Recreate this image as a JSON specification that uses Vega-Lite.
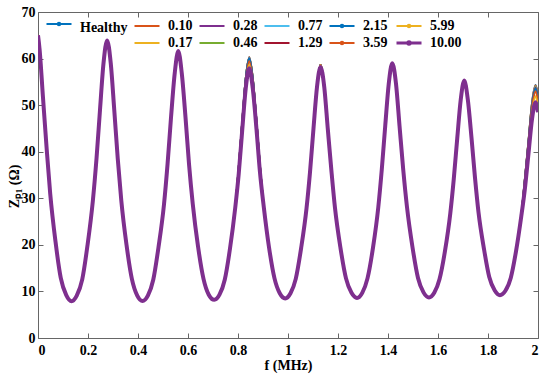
{
  "$schema": "https://vega.github.io/schema/vega-lite/v6.json",
  "width": 500,
  "height": 326,
  "autosize": {"type": "none"},
  "padding": {"left": 38, "top": 12, "right": 12, "bottom": 42},
  "background": "white",
  "config": {
    "view": {"stroke": null},
    "font": "Liberation Serif",
    "axis": {
      "labelFont": "Liberation Serif", "labelFontWeight": "bold", "labelFontSize": 14, "labelColor": "#000",
      "titleFont": "Liberation Serif", "titleFontWeight": "bold", "titleFontSize": 14, "titleColor": "#000",
      "domainColor": "#666", "tickColor": "#666", "tickSize": -5, "grid": false
    }
  },
  "layer": [
    {
      "data": {"values": [
        {"f":0,"A":65,"B":65,"C":65,"D":65,"E":65,"F":65,"G":65,"H":65,"I":65,"J":65,"K":65},
        {"f":0.006,"A":62.2,"B":62.2,"C":62.2,"D":62.2,"E":62.2,"F":62.2,"G":62.2,"H":62.2,"I":62.2,"J":62.2,"K":62.2},
        {"f":0.020,"A":51.6,"B":51.6,"C":51.6,"D":51.6,"E":51.6,"F":51.6,"G":51.6,"H":51.6,"I":51.6,"J":51.6,"K":51.6},
        {"f":0.035,"A":40.4,"B":40.4,"C":40.4,"D":40.4,"E":40.4,"F":40.4,"G":40.4,"H":40.4,"I":40.4,"J":40.4,"K":40.4},
        {"f":0.049,"A":30.9,"B":30.9,"C":30.9,"D":30.9,"E":30.9,"F":30.9,"G":30.9,"H":30.9,"I":30.9,"J":30.9,"K":30.9},
        {"f":0.070,"A":20.7,"B":20.7,"C":20.7,"D":20.7,"E":20.7,"F":20.7,"G":20.7,"H":20.7,"I":20.7,"J":20.7,"K":20.7},
        {"f":0.091,"A":12.9,"B":12.9,"C":12.9,"D":12.9,"E":12.9,"F":12.9,"G":12.9,"H":12.9,"I":12.9,"J":12.9,"K":12.9},
        {"f":0.113,"A":9.2,"B":9.2,"C":9.2,"D":9.2,"E":9.2,"F":9.2,"G":9.2,"H":9.2,"I":9.2,"J":9.2,"K":9.2},
        {"f":0.134,"A":7.9,"B":7.9,"C":7.9,"D":7.9,"E":7.9,"F":7.9,"G":7.9,"H":7.9,"I":7.9,"J":7.9,"K":7.9},
        {"f":0.155,"A":9.1,"B":9.1,"C":9.1,"D":9.1,"E":9.1,"F":9.1,"G":9.1,"H":9.1,"I":9.1,"J":9.1,"K":9.1},
        {"f":0.177,"A":12.6,"B":12.6,"C":12.6,"D":12.6,"E":12.6,"F":12.6,"G":12.6,"H":12.6,"I":12.6,"J":12.6,"K":12.6},
        {"f":0.198,"A":19.9,"B":19.9,"C":19.9,"D":19.9,"E":19.9,"F":19.9,"G":19.9,"H":19.9,"I":19.9,"J":19.9,"K":19.9},
        {"f":0.2195,"A":29.5,"B":29.5,"C":29.5,"D":29.5,"E":29.5,"F":29.5,"G":29.5,"H":29.5,"I":29.5,"J":29.5,"K":29.5},
        {"f":0.234,"A":38.5,"B":38.5,"C":38.5,"D":38.5,"E":38.5,"F":38.5,"G":38.5,"H":38.5,"I":38.5,"J":38.5,"K":38.5},
        {"f":0.248,"A":49.0,"B":49.0,"C":49.0,"D":49.0,"E":49.0,"F":49.0,"G":49.0,"H":49.0,"I":49.0,"J":49.0,"K":49.0},
        {"f":0.262,"A":59.0,"B":59.0,"C":59.0,"D":59.0,"E":59.0,"F":59.0,"G":59.0,"H":59.0,"I":59.0,"J":59.0,"K":59.0},
        {"f":0.2765,"A":63.9,"B":63.9,"C":63.9,"D":63.9,"E":63.9,"F":63.9,"G":63.9,"H":63.9,"I":63.9,"J":63.9,"K":63.9},
        {"f":0.291,"A":59.0,"B":59.0,"C":59.0,"D":59.0,"E":59.0,"F":59.0,"G":59.0,"H":59.0,"I":59.0,"J":59.0,"K":59.0},
        {"f":0.305,"A":49.0,"B":49.0,"C":49.0,"D":49.0,"E":49.0,"F":49.0,"G":49.0,"H":49.0,"I":49.0,"J":49.0,"K":49.0},
        {"f":0.319,"A":38.5,"B":38.5,"C":38.5,"D":38.5,"E":38.5,"F":38.5,"G":38.5,"H":38.5,"I":38.5,"J":38.5,"K":38.5},
        {"f":0.333,"A":29.6,"B":29.6,"C":29.6,"D":29.6,"E":29.6,"F":29.6,"G":29.6,"H":29.6,"I":29.6,"J":29.6,"K":29.6},
        {"f":0.354,"A":20.0,"B":20.0,"C":20.0,"D":20.0,"E":20.0,"F":20.0,"G":20.0,"H":20.0,"I":20.0,"J":20.0,"K":20.0},
        {"f":0.3755,"A":12.7,"B":12.7,"C":12.7,"D":12.7,"E":12.7,"F":12.7,"G":12.7,"H":12.7,"I":12.7,"J":12.7,"K":12.7},
        {"f":0.397,"A":9.1,"B":9.1,"C":9.1,"D":9.1,"E":9.1,"F":9.1,"G":9.1,"H":9.1,"I":9.1,"J":9.1,"K":9.1},
        {"f":0.418,"A":7.95,"B":7.95,"C":7.95,"D":7.95,"E":7.95,"F":7.95,"G":7.95,"H":7.95,"I":7.95,"J":7.95,"K":7.95},
        {"f":0.4395,"A":9.1,"B":9.1,"C":9.1,"D":9.1,"E":9.1,"F":9.1,"G":9.1,"H":9.1,"I":9.1,"J":9.1,"K":9.1},
        {"f":0.461,"A":12.5,"B":12.5,"C":12.5,"D":12.5,"E":12.5,"F":12.5,"G":12.5,"H":12.5,"I":12.5,"J":12.5,"K":12.5},
        {"f":0.482,"A":19.5,"B":19.5,"C":19.5,"D":19.5,"E":19.5,"F":19.5,"G":19.5,"H":19.5,"I":19.5,"J":19.5,"K":19.5},
        {"f":0.504,"A":28.7,"B":28.7,"C":28.7,"D":28.7,"E":28.7,"F":28.7,"G":28.7,"H":28.7,"I":28.7,"J":28.7,"K":28.7},
        {"f":0.518,"A":37.2,"B":37.2,"C":37.2,"D":37.2,"E":37.2,"F":37.2,"G":37.2,"H":37.2,"I":37.2,"J":37.2,"K":37.2},
        {"f":0.532,"A":47.3,"B":47.3,"C":47.3,"D":47.3,"E":47.3,"F":47.3,"G":47.3,"H":47.3,"I":47.3,"J":47.3,"K":47.3},
        {"f":0.547,"A":56.9,"B":56.9,"C":56.9,"D":56.9,"E":56.9,"F":56.9,"G":56.9,"H":56.9,"I":56.9,"J":56.9,"K":56.9},
        {"f":0.561,"A":61.6,"B":61.6,"C":61.6,"D":61.6,"E":61.6,"F":61.6,"G":61.6,"H":61.6,"I":61.6,"J":61.6,"K":61.6},
        {"f":0.575,"A":56.9,"B":56.9,"C":56.9,"D":56.9,"E":56.9,"F":56.9,"G":56.9,"H":56.9,"I":56.9,"J":56.9,"K":56.9},
        {"f":0.590,"A":47.4,"B":47.4,"C":47.4,"D":47.4,"E":47.4,"F":47.4,"G":47.4,"H":47.4,"I":47.4,"J":47.4,"K":47.4},
        {"f":0.604,"A":37.4,"B":37.4,"C":37.4,"D":37.4,"E":37.4,"F":37.4,"G":37.4,"H":37.4,"I":37.4,"J":37.4,"K":37.4},
        {"f":0.619,"A":28.8,"B":28.8,"C":28.8,"D":28.8,"E":28.8,"F":28.8,"G":28.8,"H":28.8,"I":28.8,"J":28.8,"K":28.8},
        {"f":0.640,"A":19.7,"B":19.7,"C":19.7,"D":19.7,"E":19.7,"F":19.7,"G":19.7,"H":19.7,"I":19.7,"J":19.7,"K":19.7},
        {"f":0.662,"A":12.7,"B":12.7,"C":12.7,"D":12.7,"E":12.7,"F":12.7,"G":12.7,"H":12.7,"I":12.7,"J":12.7,"K":12.7},
        {"f":0.683,"A":9.3,"B":9.3,"C":9.3,"D":9.3,"E":9.3,"F":9.3,"G":9.3,"H":9.3,"I":9.3,"J":9.3,"K":9.3},
        {"f":0.705,"A":8.2,"B":8.2,"C":8.2,"D":8.2,"E":8.2,"F":8.2,"G":8.2,"H":8.2,"I":8.2,"J":8.2,"K":8.2},
        {"f":0.726,"A":9.3,"B":9.3,"C":9.3,"D":9.3,"E":9.3,"F":9.3,"G":9.3,"H":9.3,"I":9.3,"J":9.3,"K":9.3},
        {"f":0.747,"A":12.5,"B":12.5,"C":12.5,"D":12.5,"E":12.5,"F":12.5,"G":12.5,"H":12.5,"I":12.5,"J":12.5,"K":12.5},
        {"f":0.768,"A":19.2,"B":19.2,"C":19.2,"D":19.2,"E":19.2,"F":19.2,"G":19.2,"H":19.2,"I":19.2,"J":19.2,"K":19.2},
        {"f":0.789,"A":28.0,"B":28.0,"C":28.0,"D":28.0,"E":28.0,"F":28.0,"G":28.0,"H":28.0,"I":28.0,"J":28.0,"K":28.0},
        {"f":0.803,"A":36.6,"B":36.6,"C":36.6,"D":36.6,"E":36.5,"F":36.5,"G":36.5,"H":36.5,"I":36.2,"J":35.8,"K":35.3},
        {"f":0.817,"A":46.4,"B":46.4,"C":46.4,"D":46.4,"E":46.3,"F":46.3,"G":46.2,"H":46.2,"I":45.8,"J":45.3,"K":44.7},
        {"f":0.831,"A":55.7,"B":55.7,"C":55.7,"D":55.7,"E":55.6,"F":55.6,"G":55.5,"H":55.5,"I":54.9,"J":54.3,"K":53.6},
        {"f":0.845,"A":60.3,"B":60.3,"C":60.2,"D":60.2,"E":60.1,"F":60.1,"G":60.0,"H":60.0,"I":59.4,"J":58.7,"K":57.9},
        {"f":0.859,"A":55.8,"B":55.8,"C":55.7,"D":55.7,"E":55.6,"F":55.6,"G":55.5,"H":55.5,"I":54.9,"J":54.3,"K":53.6},
        {"f":0.874,"A":46.5,"B":46.5,"C":46.4,"D":46.4,"E":46.4,"F":46.4,"G":46.3,"H":46.3,"I":45.9,"J":45.3,"K":44.8},
        {"f":0.888,"A":36.8,"B":36.8,"C":36.7,"D":36.7,"E":36.7,"F":36.7,"G":36.6,"H":36.6,"I":36.3,"J":35.9,"K":35.5},
        {"f":0.903,"A":28.2,"B":28.2,"C":28.2,"D":28.2,"E":28.2,"F":28.2,"G":28.2,"H":28.2,"I":28.2,"J":28.2,"K":28.2},
        {"f":0.924,"A":19.5,"B":19.5,"C":19.5,"D":19.5,"E":19.5,"F":19.5,"G":19.5,"H":19.5,"I":19.5,"J":19.5,"K":19.5},
        {"f":0.946,"A":12.8,"B":12.8,"C":12.8,"D":12.8,"E":12.8,"F":12.8,"G":12.8,"H":12.8,"I":12.8,"J":12.8,"K":12.8},
        {"f":0.967,"A":9.6,"B":9.6,"C":9.6,"D":9.6,"E":9.6,"F":9.6,"G":9.6,"H":9.6,"I":9.6,"J":9.6,"K":9.6},
        {"f":0.989,"A":8.5,"B":8.5,"C":8.5,"D":8.5,"E":8.5,"F":8.5,"G":8.5,"H":8.5,"I":8.5,"J":8.5,"K":8.5},
        {"f":1.010,"A":9.6,"B":9.6,"C":9.6,"D":9.6,"E":9.6,"F":9.6,"G":9.6,"H":9.6,"I":9.6,"J":9.6,"K":9.6},
        {"f":1.031,"A":12.7,"B":12.7,"C":12.7,"D":12.7,"E":12.7,"F":12.7,"G":12.7,"H":12.7,"I":12.7,"J":12.7,"K":12.7},
        {"f":1.0525,"A":19.3,"B":19.3,"C":19.3,"D":19.3,"E":19.3,"F":19.3,"G":19.3,"H":19.3,"I":19.3,"J":19.3,"K":19.3},
        {"f":1.074,"A":27.8,"B":27.8,"C":27.8,"D":27.8,"E":27.8,"F":27.8,"G":27.8,"H":27.8,"I":27.8,"J":27.8,"K":27.8},
        {"f":1.088,"A":35.9,"B":35.9,"C":35.9,"D":35.9,"E":35.9,"F":35.9,"G":35.9,"H":35.9,"I":35.9,"J":35.8,"K":35.6},
        {"f":1.102,"A":45.3,"B":45.3,"C":45.3,"D":45.3,"E":45.3,"F":45.3,"G":45.3,"H":45.3,"I":45.3,"J":45.2,"K":45.0},
        {"f":1.116,"A":54.2,"B":54.2,"C":54.2,"D":54.2,"E":54.2,"F":54.2,"G":54.2,"H":54.2,"I":54.2,"J":54.1,"K":53.9},
        {"f":1.130,"A":58.6,"B":58.6,"C":58.6,"D":58.6,"E":58.6,"F":58.6,"G":58.6,"H":58.6,"I":58.6,"J":58.5,"K":58.2},
        {"f":1.145,"A":54.2,"B":54.2,"C":54.2,"D":54.2,"E":54.2,"F":54.2,"G":54.2,"H":54.2,"I":54.2,"J":54.1,"K":53.9},
        {"f":1.159,"A":45.3,"B":45.3,"C":45.3,"D":45.3,"E":45.3,"F":45.3,"G":45.3,"H":45.3,"I":45.3,"J":45.2,"K":45.0},
        {"f":1.174,"A":35.9,"B":35.9,"C":35.9,"D":35.9,"E":35.9,"F":35.9,"G":35.9,"H":35.9,"I":35.9,"J":35.8,"K":35.7},
        {"f":1.188,"A":27.9,"B":27.9,"C":27.9,"D":27.9,"E":27.9,"F":27.9,"G":27.9,"H":27.9,"I":27.9,"J":27.9,"K":27.9},
        {"f":1.210,"A":19.3,"B":19.3,"C":19.3,"D":19.3,"E":19.3,"F":19.3,"G":19.3,"H":19.3,"I":19.3,"J":19.3,"K":19.3},
        {"f":1.232,"A":12.8,"B":12.8,"C":12.8,"D":12.8,"E":12.8,"F":12.8,"G":12.8,"H":12.8,"I":12.8,"J":12.8,"K":12.8},
        {"f":1.254,"A":9.7,"B":9.7,"C":9.7,"D":9.7,"E":9.7,"F":9.7,"G":9.7,"H":9.7,"I":9.7,"J":9.7,"K":9.7},
        {"f":1.276,"A":8.6,"B":8.6,"C":8.6,"D":8.6,"E":8.6,"F":8.6,"G":8.6,"H":8.6,"I":8.6,"J":8.6,"K":8.6},
        {"f":1.297,"A":9.7,"B":9.7,"C":9.7,"D":9.7,"E":9.7,"F":9.7,"G":9.7,"H":9.7,"I":9.7,"J":9.7,"K":9.7},
        {"f":1.318,"A":12.8,"B":12.8,"C":12.8,"D":12.8,"E":12.8,"F":12.8,"G":12.8,"H":12.8,"I":12.8,"J":12.8,"K":12.8},
        {"f":1.340,"A":19.4,"B":19.4,"C":19.4,"D":19.4,"E":19.4,"F":19.4,"G":19.4,"H":19.4,"I":19.4,"J":19.4,"K":19.4},
        {"f":1.361,"A":28.0,"B":28.0,"C":28.0,"D":28.0,"E":28.0,"F":28.0,"G":28.0,"H":28.0,"I":28.0,"J":28.0,"K":28.0},
        {"f":1.375,"A":36.1,"B":36.1,"C":36.1,"D":36.1,"E":36.1,"F":36.1,"G":36.1,"H":36.1,"I":36.1,"J":36.1,"K":36.1},
        {"f":1.389,"A":45.5,"B":45.5,"C":45.5,"D":45.5,"E":45.5,"F":45.5,"G":45.5,"H":45.5,"I":45.5,"J":45.5,"K":45.6},
        {"f":1.403,"A":54.5,"B":54.5,"C":54.5,"D":54.5,"E":54.5,"F":54.5,"G":54.5,"H":54.5,"I":54.5,"J":54.5,"K":54.6},
        {"f":1.417,"A":58.9,"B":58.9,"C":58.9,"D":58.9,"E":58.9,"F":58.9,"G":58.9,"H":58.9,"I":58.9,"J":58.9,"K":59.0},
        {"f":1.432,"A":54.5,"B":54.5,"C":54.5,"D":54.5,"E":54.5,"F":54.5,"G":54.5,"H":54.5,"I":54.5,"J":54.5,"K":54.6},
        {"f":1.446,"A":45.5,"B":45.5,"C":45.5,"D":45.5,"E":45.5,"F":45.5,"G":45.5,"H":45.5,"I":45.5,"J":45.5,"K":45.6},
        {"f":1.461,"A":36.1,"B":36.1,"C":36.1,"D":36.1,"E":36.1,"F":36.1,"G":36.1,"H":36.1,"I":36.1,"J":36.1,"K":36.1},
        {"f":1.476,"A":28.1,"B":28.1,"C":28.1,"D":28.1,"E":28.1,"F":28.1,"G":28.1,"H":28.1,"I":28.1,"J":28.1,"K":28.1},
        {"f":1.498,"A":19.5,"B":19.5,"C":19.5,"D":19.5,"E":19.5,"F":19.5,"G":19.5,"H":19.5,"I":19.5,"J":19.5,"K":19.5},
        {"f":1.520,"A":12.9,"B":12.9,"C":12.9,"D":12.9,"E":12.9,"F":12.9,"G":12.9,"H":12.9,"I":12.9,"J":12.9,"K":12.9},
        {"f":1.542,"A":9.8,"B":9.8,"C":9.8,"D":9.8,"E":9.8,"F":9.8,"G":9.8,"H":9.8,"I":9.8,"J":9.8,"K":9.8},
        {"f":1.564,"A":8.7,"B":8.7,"C":8.7,"D":8.7,"E":8.7,"F":8.7,"G":8.7,"H":8.7,"I":8.7,"J":8.7,"K":8.7},
        {"f":1.585,"A":9.7,"B":9.7,"C":9.7,"D":9.7,"E":9.7,"F":9.7,"G":9.7,"H":9.7,"I":9.7,"J":9.7,"K":9.7},
        {"f":1.606,"A":12.6,"B":12.6,"C":12.6,"D":12.6,"E":12.6,"F":12.6,"G":12.6,"H":12.6,"I":12.6,"J":12.6,"K":12.6},
        {"f":1.628,"A":18.7,"B":18.7,"C":18.7,"D":18.7,"E":18.7,"F":18.7,"G":18.7,"H":18.7,"I":18.7,"J":18.7,"K":18.7},
        {"f":1.649,"A":26.7,"B":26.7,"C":26.7,"D":26.7,"E":26.7,"F":26.7,"G":26.7,"H":26.7,"I":26.7,"J":26.7,"K":26.7},
        {"f":1.663,"A":34.1,"B":34.1,"C":34.1,"D":34.1,"E":34.1,"F":34.1,"G":34.1,"H":34.1,"I":34.1,"J":34.1,"K":34.1},
        {"f":1.677,"A":42.9,"B":42.9,"C":42.9,"D":42.9,"E":42.9,"F":42.9,"G":42.9,"H":42.9,"I":42.9,"J":42.9,"K":42.9},
        {"f":1.691,"A":51.2,"B":51.2,"C":51.2,"D":51.2,"E":51.2,"F":51.2,"G":51.2,"H":51.2,"I":51.2,"J":51.2,"K":51.2},
        {"f":1.705,"A":55.3,"B":55.3,"C":55.3,"D":55.3,"E":55.3,"F":55.3,"G":55.3,"H":55.3,"I":55.3,"J":55.3,"K":55.3},
        {"f":1.719,"A":51.3,"B":51.3,"C":51.3,"D":51.3,"E":51.3,"F":51.3,"G":51.3,"H":51.3,"I":51.3,"J":51.3,"K":51.3},
        {"f":1.734,"A":43.0,"B":43.0,"C":43.0,"D":43.0,"E":43.0,"F":43.0,"G":43.0,"H":43.0,"I":43.0,"J":43.0,"K":43.0},
        {"f":1.748,"A":34.4,"B":34.4,"C":34.4,"D":34.4,"E":34.4,"F":34.4,"G":34.4,"H":34.4,"I":34.4,"J":34.4,"K":34.4},
        {"f":1.762,"A":27.0,"B":27.0,"C":27.0,"D":27.0,"E":27.0,"F":27.0,"G":27.0,"H":27.0,"I":27.0,"J":27.0,"K":27.0},
        {"f":1.784,"A":19.1,"B":19.1,"C":19.1,"D":19.1,"E":19.1,"F":19.1,"G":19.1,"H":19.1,"I":19.1,"J":19.1,"K":19.1},
        {"f":1.805,"A":13.1,"B":13.1,"C":13.1,"D":13.1,"E":13.1,"F":13.1,"G":13.1,"H":13.1,"I":13.1,"J":13.1,"K":13.1},
        {"f":1.827,"A":10.2,"B":10.2,"C":10.2,"D":10.2,"E":10.2,"F":10.2,"G":10.2,"H":10.2,"I":10.2,"J":10.2,"K":10.2},
        {"f":1.848,"A":9.2,"B":9.2,"C":9.2,"D":9.2,"E":9.2,"F":9.2,"G":9.2,"H":9.2,"I":9.2,"J":9.2,"K":9.2},
        {"f":1.869,"A":10.1,"B":10.1,"C":10.1,"D":10.1,"E":10.1,"F":10.1,"G":10.1,"H":10.1,"I":10.1,"J":10.1,"K":10.1},
        {"f":1.891,"A":12.9,"B":12.9,"C":12.9,"D":12.9,"E":12.9,"F":12.9,"G":12.9,"H":12.9,"I":12.9,"J":12.9,"K":12.9},
        {"f":1.912,"A":18.6,"B":18.6,"C":18.6,"D":18.6,"E":18.6,"F":18.6,"G":18.6,"H":18.6,"I":18.6,"J":18.6,"K":18.6},
        {"f":1.933,"A":26.1,"B":26.1,"C":26.1,"D":26.1,"E":26.1,"F":26.1,"G":26.1,"H":26.1,"I":26.1,"J":26.1,"K":26.1},
        {"f":1.947,"A":33.8,"B":33.8,"C":33.7,"D":33.7,"E":33.6,"F":33.6,"G":33.5,"H":33.4,"I":33.1,"J":32.5,"K":31.8},
        {"f":1.962,"A":42.3,"B":42.2,"C":42.2,"D":42.1,"E":42.0,"F":41.9,"G":41.9,"H":41.8,"I":41.3,"J":40.5,"K":39.6},
        {"f":1.976,"A":50.4,"B":50.3,"C":50.2,"D":50.1,"E":50.0,"F":49.9,"G":49.8,"H":49.7,"I":49.2,"J":48.2,"K":47.0},
        {"f":1.990,"A":54.3,"B":54.2,"C":54.1,"D":54.0,"E":53.9,"F":53.8,"G":53.7,"H":53.6,"I":53.0,"J":51.9,"K":50.6},
        {"f":2.000,"A":52.1,"B":52.0,"C":51.9,"D":51.8,"E":51.7,"F":51.6,"G":51.5,"H":51.4,"I":50.8,"J":49.8,"K":48.5}
      ]},
      "transform": [{"fold": ["A","B","C","D","E","F","G","H","I","J","K"], "as": ["series","z"]}],
      "mark": {"type": "line", "interpolate": "monotone", "clip": true},
      "encoding": {
        "x": {"field": "f", "type": "quantitative", "scale": {"domain": [0, 2], "nice": false},
              "axis": {"orient": "bottom", "values": [0,0.2,0.4,0.6,0.8,1,1.2,1.4,1.6,1.8,2], "format": "~g", "labelPadding": 10,
                       "title": "f (MHz)", "titleX": 250, "titleY": 31, "titleBaseline": "alphabetic", "titleAlign": "center"}},
        "y": {"field": "z", "type": "quantitative", "scale": {"domain": [0, 70], "nice": false},
              "axis": {"orient": "left", "values": [0,10,20,30,40,50,60,70], "labelPadding": 8,
                       "title": "Zₚ₁ (Ω)", "titleX": -20, "titleY": 174, "titleAngle": 270, "titleAlign": "center", "titleBaseline": "alphabetic"}},
        "color": {"field": "series", "type": "nominal",
          "scale": {"domain": ["A"," ","B","C","D","E","F","G","H","I","J","K"],
                    "range": ["#0072BD","rgba(0,0,0,0)","#D95319","#EDB120","#7E2F8E","#77AC30","#4DBEEE","#A2142F","#0072BD","#D95319","#EDB120","#7E2F8E"]},
          "legend": {
            "orient": "none", "legendX": 14, "legendY": 5, "columns": 6, "title": null, "padding": 0,
            "columnPadding": 2, "rowPadding": 0,
            "symbolType": "M-2.5,0H2.5", "symbolSize": 100, "symbolStrokeWidth": 2,
            "labelFont": "Liberation Serif", "labelFontWeight": "bold", "labelFontSize": 14, "labelColor": "#000", "labelOffset": 14,
            "labelExpr": "{'A':'Healthy','B':'0.10','C':'0.17','D':'0.28','E':'0.46','F':'0.77','G':'1.29','H':'2.15','I':'3.59','J':'5.99','K':'10.00'}[datum.value] || ''",
            "encode": {
              "symbols": {"update": {
                "shape": {"signal": "indexof(['A','H','I','J','K'], datum.value) >= 0 ? 'M-2.5,0H2.5M0.25,0A0.25,0.25,0,1,1,-0.25,0A0.25,0.25,0,1,1,0.25,0' : 'M-2.5,0H2.5'"},
                "fill": {"signal": "scale('color', datum.value)"},
                "strokeWidth": {"signal": "datum.value === 'K' ? 3 : 2"},
                "dy": {"signal": "datum.value === 'A' ? 2 : 0"}
              }},
              "labels": {"update": {
                "dy": {"signal": "datum.value === 'A' ? 4 : 0"}
              }}
            }
          }},
        "strokeWidth": {"condition": {"test": "datum.series === 'K'", "value": 4}, "value": 2}
      }
    },
    {
      "data": {"values": [{"f": 0, "z": 0}]},
      "mark": {"type": "point", "opacity": 0},
      "encoding": {
        "x": {"field": "f", "type": "quantitative", "scale": {"domain": [0, 2], "nice": false},
              "axis": {"orient": "top", "values": [0,0.2,0.4,0.6,0.8,1,1.2,1.4,1.6,1.8,2], "labels": false, "title": null}},
        "y": {"field": "z", "type": "quantitative", "scale": {"domain": [0, 70], "nice": false},
              "axis": {"orient": "right", "values": [0,10,20,30,40,50,60,70], "labels": false, "title": null}}
      }
    }
  ],
  "resolve": {"axis": {"x": "independent", "y": "independent"}}
}
